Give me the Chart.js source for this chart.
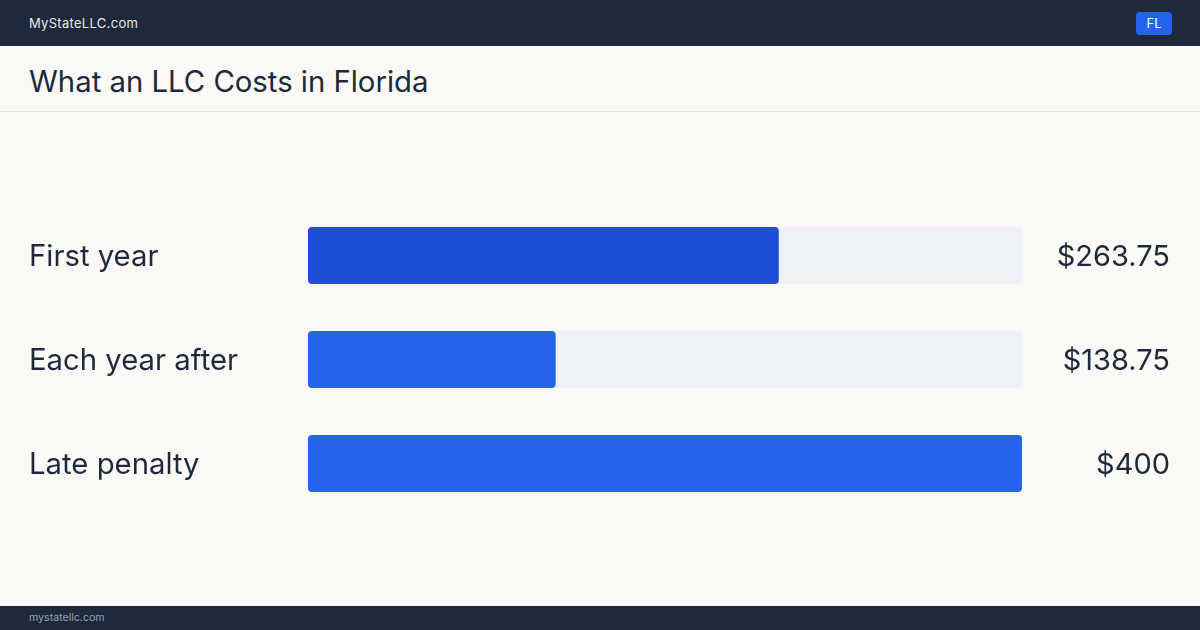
<!DOCTYPE html>
<html><head><meta charset="utf-8">
<script src="https://cdn.jsdelivr.net/npm/chart.js@4/dist/chart.umd.min.js"></script>
<style>
html,body{margin:0;padding:0;}
body{width:1200px;height:630px;background:#faf9f5;font-family:Inter,"Noto Sans",sans-serif;position:relative;overflow:hidden;}
.top{position:absolute;left:0;top:0;width:1200px;height:46px;background:#1e293b;}
.brand{position:absolute;left:29px;top:15px;font-size:13px;color:#e2e8f0;letter-spacing:0.3px;}
.badge{position:absolute;left:1136px;top:12px;width:36px;height:23px;background:#2563eb;border-radius:4px;color:#fff;font-size:13px;line-height:23px;text-align:center;}
.title{position:absolute;left:29px;top:64px;font-size:29.3px;color:#1e293b;}
.sep{position:absolute;left:0;top:111px;width:1200px;height:1px;background:#e2e8f0;}
.foot{position:absolute;left:0;top:606px;width:1200px;height:24px;background:#1e293b;}
.foot span{position:absolute;left:29px;top:5px;font-size:10.6px;color:#94a3b8;}
#wrap{position:absolute;left:0;top:112px;width:1200px;height:494px;}
</style></head>
<body>
<div class="top"><div class="brand">MyStateLLC.com</div><div class="badge">FL</div></div>
<div class="title">What an LLC Costs in Florida</div>
<div class="sep"></div>
<div id="wrap"><canvas id="c"></canvas></div>
<div class="foot"><span>mystatellc.com</span></div>
<script>
const categories = ["First year", "Each year after", "Late penalty"];
const costs = [263.75, 138.75, 400];
const valueLabels = ["$263.75", "$138.75", "$400"];
const scaleMax = 400;
const barColors = ["#1d4ed8", "#2563eb", "#2563eb"];

const track = categories.map(() => scaleMax);

new Chart(document.getElementById('c'), {
  type: 'bar',
  data: {
    labels: categories,
    datasets: [
      { data: costs, backgroundColor: barColors, borderRadius: 4, borderSkipped: false, order: 1,
        categoryPercentage: 1, barPercentage: 0.548 },
      { data: track, backgroundColor: "#eef2f7", borderRadius: 4, borderSkipped: false, order: 2,
        categoryPercentage: 1, barPercentage: 0.548 }
    ]
  },
  options: {
    indexAxis: 'y',
    responsive: true,
    maintainAspectRatio: false,
    animation: false,
    grouped: false,
    layout: { padding: { left: 29, right: 30, top: 91.5, bottom: 90.5 } },
    plugins: { legend: { display: false }, tooltip: { enabled: false } },
    scales: {
      x: { display: false, min: 0, max: scaleMax },
      y: {
        position: 'left',
        grid: { display: false }, border: { display: false },
        ticks: { crossAlign: 'far', color: '#1e293b', font: { family: 'Inter', size: 29.3 }, padding: 0, labelOffset: 1.5 },
        afterFit: s => { s.width = 308 - 29; }
      },
      y2: {
        type: 'category',
        position: 'right',
        labels: valueLabels,
        offset: true,
        grid: { display: false }, border: { display: false },
        ticks: { crossAlign: 'far', color: '#1e293b', font: { family: 'Inter', size: 29 }, padding: 0, labelOffset: 1.5 },
        afterFit: s => { s.width = 1170 - 1022; }
      }
    }
  }
});
</script>
</body></html>
